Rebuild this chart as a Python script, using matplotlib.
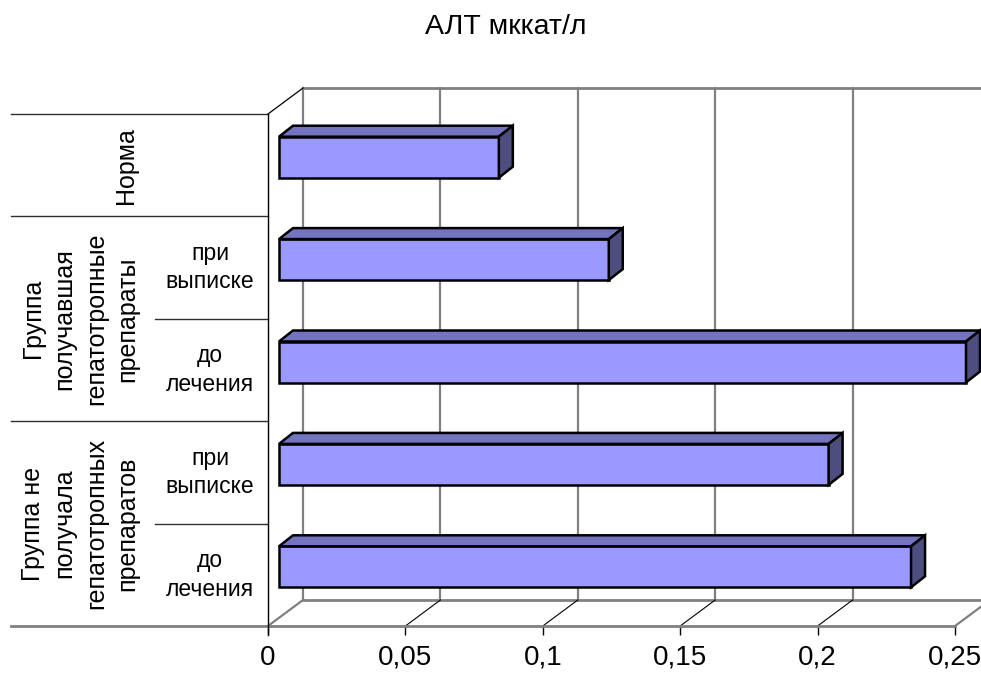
import matplotlib
matplotlib.use('Agg')
import matplotlib.pyplot as plt
from matplotlib.patches import Polygon, Rectangle

plt.rcParams['font.family'] = ['Liberation Sans', 'DejaVu Sans']

# data (bottom to top, as drawn)
title = 'АЛТ мккат/л'
values = [0.23, 0.20, 0.25, 0.12, 0.08]
sub_labels = ['до\nлечения', 'при\nвыписке', 'до\nлечения', 'при\nвыписке']
group_labels = ['Группа не\nполучала\nгепатотропных\nпрепаратов',
                'Группа\nполучавшая\nгепатотропные\nпрепараты']
norm_label = 'Норма'
ticks = [0, 0.05, 0.1, 0.15, 0.2, 0.25]
tick_labels = ['0', '0,05', '0,1', '0,15', '0,2', '0,25']

W, H = 981, 673
fig = plt.figure(figsize=(W / 100, H / 100), dpi=100)
fig.patch.set_facecolor('white')

# front plane of the 3d box
ax = fig.add_axes([268 / W, (H - 626) / H, 687 / W, 512 / H])
ax.set_xlim(0, 0.25)
ax.set_ylim(-0.5, 4.5)
for s in ax.spines.values():
    s.set_visible(False)
ax.set_facecolor('none')

# pixel -> data units
ux = 0.25 / 687
uy = 5 / 512
ddx, ddy = 35 * ux, 26 * uy   # depth of the box
grey = '#808080'

# back wall gridlines
for t in ticks:
    ax.plot([t + ddx, t + ddx], [-0.5 + ddy, 4.5 + ddy], color=grey, lw=1.6, clip_on=False, zorder=1)
ax.plot([ddx, 0.25 + ddx + 0.01], [4.5 + ddy] * 2, color=grey, lw=2, clip_on=False, zorder=1)
ax.plot([ddx, 0.25 + ddx], [-0.5 + ddy] * 2, color=grey, lw=2, clip_on=False, zorder=1)

# floor
for t in ticks:
    c = grey if t in (ticks[0], ticks[-1]) else 'black'
    lw = 1.6 if c == grey else 0.8
    ax.plot([t, t + ddx], [-0.5, -0.5 + ddy], color=c, lw=lw, clip_on=False, zorder=1)
ax.plot([(11 - 268) * ux, 0.25], [-0.5, -0.5], color=grey, lw=2, clip_on=False, zorder=2)
ax.plot([0, ddx], [4.5, 4.5 + ddy], color='black', lw=0.9, clip_on=False, zorder=1)

# category axis and label table
ax.plot([0, 0], [4.5, -0.5 - 9 * uy], color='black', lw=1, clip_on=False, zorder=3)
x_full = (11 - 268) * ux
x_inner = (155 - 268) * ux
for yy, xl in [(4.5, x_full), (3.5, x_full), (2.5, x_inner), (1.5, x_full), (0.5, x_inner)]:
    ax.plot([xl, 0], [yy, yy], color='#303030', lw=1, clip_on=False, zorder=2)

ax.set_yticks([])
ax.set_xticks(ticks)
ax.set_xticklabels(tick_labels)
ax.tick_params(axis='x', length=6.5, width=1, color='black', labelsize=20, pad=7)

# 3d bars
front_c, top_c, side_c = '#9999FF', '#7373BF', '#4D4D80'
bh = 41 * uy
bx0 = 11 * ux
bdx, bdy = 14 * ux, 11 * uy
for i, v in enumerate(values):
    y0 = i - bh / 2 + 8 * uy
    x1 = bx0 + v
    ax.add_patch(Rectangle((bx0, y0), v, bh, facecolor=front_c, edgecolor='black',
                           lw=1.8, joinstyle='miter', clip_on=False, zorder=5))
    ax.add_patch(Polygon([(bx0, y0 + bh), (x1, y0 + bh), (x1 + bdx, y0 + bh + bdy), (bx0 + bdx, y0 + bh + bdy)],
                         closed=True, facecolor=top_c, edgecolor='black', lw=1.8,
                         joinstyle='miter', clip_on=False, zorder=5))
    ax.add_patch(Polygon([(x1, y0), (x1 + bdx, y0 + bdy), (x1 + bdx, y0 + bh + bdy), (x1, y0 + bh)],
                         closed=True, facecolor=side_c, edgecolor='black', lw=1.8,
                         joinstyle='miter', clip_on=False, zorder=5))

# category labels
for i, lab in enumerate(sub_labels):
    ax.text((210 - 268) * ux, i, lab, ha='center', va='center', fontsize=16.5,
            multialignment='center', linespacing=1.3, clip_on=False)
for yy, lab in zip([0.5, 2.5], group_labels):
    ax.text((80 - 268) * ux, yy, lab, ha='center', va='center', fontsize=18, rotation=90,
            multialignment='center', linespacing=1.4, clip_on=False)
ax.text((126 - 268) * ux, 4, norm_label, ha='center', va='center', fontsize=18, rotation=90,
        clip_on=False)

fig.text(506 / W, 1 - 27 / H, title, ha='center', va='center', fontsize=20.5)

fig.savefig('out.png', dpi=100)
